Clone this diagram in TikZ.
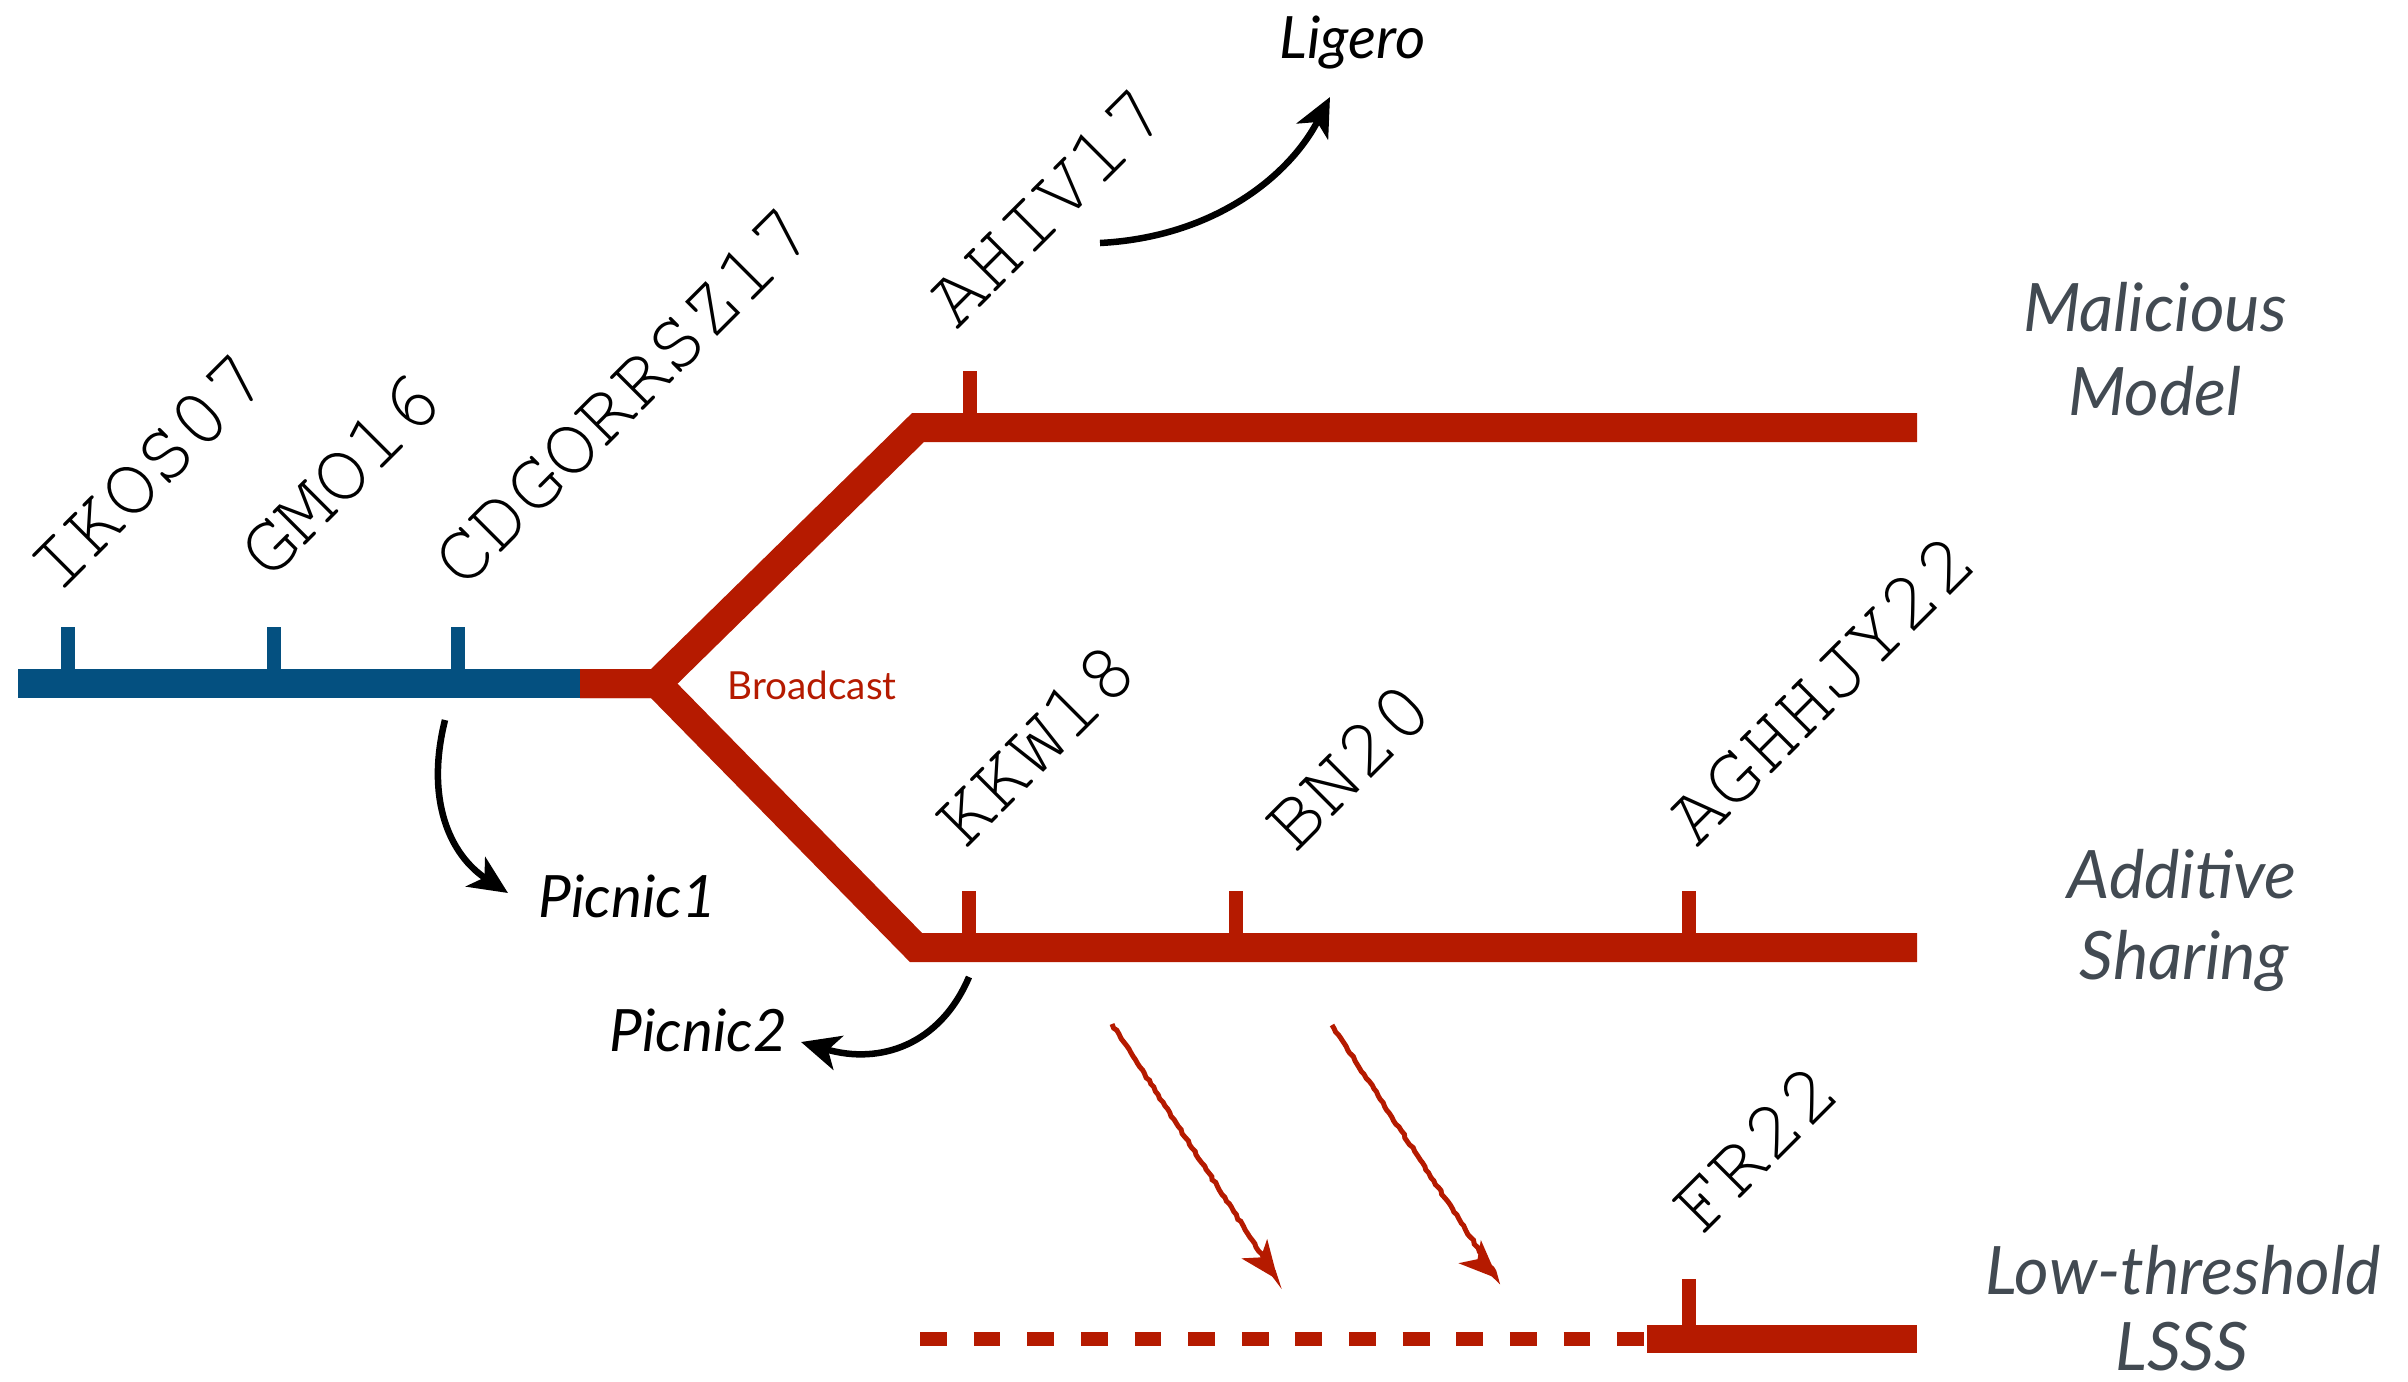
\documentclass[tikz,border=0pt]{standalone}
\usepackage[T1]{fontenc}
\usepackage{fontspec}
\setmainfont{Lato}
\usetikzlibrary{arrows.meta,decorations.pathmorphing}

\definecolor{rBlue}{RGB}{4,80,128}
\definecolor{rRed}{RGB}{181,26,0}
\definecolor{rGray}{RGB}{66,74,82}

% typewriter face for the citation keys
\newcommand{\citefont}{\fontencoding{T1}\fontfamily{pcr}\fontseries{m}\fontshape{n}\fontsize{23.7}{26}\selectfont}

\tikzset{
  blueline/.style={draw=rBlue, line width=0.29cm},
  redline/.style={draw=rRed, line width=0.29cm, miter limit=10},
  thinline/.style={draw=rRed, line width=0.14cm},
  tickmark/.style={line width=0.133cm},
  citekey/.style={rotate=45, anchor=base west, inner sep=0pt, font=\citefont},
  schemelabel/.style={anchor=base west, inner sep=0pt, font=\itshape\fontsize{16.6}{19}\selectfont},
  sidelabel/.style={anchor=base, inner sep=0pt, text=rGray, font=\itshape\fontsize{19}{22}\selectfont},
  curvedarrow/.style={draw=black, line width=0.065cm, -{Stealth[length=11pt,width=10pt,inset=3pt]}},
  sketcharrow/.style={draw=rRed, line width=0.05cm, decorate,
    decoration={random steps, segment length=1.2pt, amplitude=0.25pt},
    -{Stealth[length=11pt,width=9pt,inset=3pt]}}
}

\begin{document}
\begin{tikzpicture}[x=0.01cm,y=-0.01cm]
\useasboundingbox (0,0) rectangle (2408,1381);

% track geometry
\coordinate (bl) at (18,683.5);
\coordinate (bc) at (580,683.5);
\coordinate (J)  at (657,683.5);
\coordinate (uc) at (918,427.5);
\coordinate (ue) at (1917,427.5);
\coordinate (lc) at (916,947.5);
\coordinate (le) at (1917,947.5);
\coordinate (ds) at (920,1339);
\coordinate (de) at (1644,1339);
\coordinate (ts) at (1647,1339);
\coordinate (te) at (1917,1339);

% branches
\draw[redline] (bc) -- (J) -- (uc) -- (ue);
\draw[redline] (bc) -- (J) -- (lc) -- (le);
\draw[blueline] (bl) -- (bc);

% low-threshold track
\draw[thinline, dash pattern=on 0.268cm off 0.268cm] (ds) -- (de);
\draw[redline, line width=0.28cm] (ts) -- (te);

% ticks
\draw[tickmark, rBlue] (68,683.5) -- ++(0,-56.5);
\draw[tickmark, rBlue] (274,683.5) -- ++(0,-56.5);
\draw[tickmark, rBlue] (458,683.5) -- ++(0,-56.5);
\draw[tickmark, rRed] (970,427.5) -- ++(0,-56.5);
\draw[tickmark, rRed] (969,947.5) -- ++(0,-56.5);
\draw[tickmark, rRed] (1236,947.5) -- ++(0,-56.5);
\draw[tickmark, rRed] (1689,947.5) -- ++(0,-56.5);
\draw[tickmark, rRed] (1689,1339) -- ++(0,-60);

% citation keys
\node[citekey] (ikos) at (58,596) {IKOS07};
\node[citekey] (gmo) at (269,582) {GMO16};
\node[citekey] (cdg) at (463,591) {CDGORRSZ17};
\node[citekey] (ahiv) at (957,331) {AHIV17};
\node[citekey] (kkw) at (965,851) {KKW18};
\node[citekey] (bn) at (1295,855) {BN20};
\node[citekey] (aghh) at (1697,849) {AGHHJY22};
\node[citekey] (fr) at (1702,1237) {FR22};

% broadcast label
\node[anchor=base west, inner sep=0pt, text=rRed, font=\fontsize{11}{13}\selectfont] (bcast) at (727,699) {Broadcast};

% scheme labels
\node[schemelabel] (ligero) at (1279,58) {Ligero};
\node[schemelabel] (picnic1) at (538,917) {Picnic1};
\node[schemelabel] (picnic2) at (609,1051) {Picnic2};

% model labels
\node[sidelabel] (mal) at (2155,331) {Malicious};
\node[sidelabel] (mod) at (2155,415) {Model};
\node[sidelabel] (add) at (2182,898) {Additive};
\node[sidelabel] (sha) at (2184,979) {Sharing};
\node[sidelabel] (low) at (2183,1294) {Low-threshold};
\node[sidelabel] (lsss) at (2182,1370) {LSSS};

% derivation arrows
\coordinate (a1s) at (1100,243);
\coordinate (a1e) at (1330,97);
\draw[curvedarrow] (a1s) .. controls (1215,237) and (1290,175) .. (a1e);

\coordinate (a2s) at (445,720);
\coordinate (a2e) at (508,893);
\draw[curvedarrow] (a2s) .. controls (425,800) and (450,855) .. (a2e);

\coordinate (a3s) at (969,977);
\coordinate (a3e) at (801,1042);
\draw[curvedarrow] (a3s) .. controls (940,1045) and (880,1065) .. (a3e);

% hand-drawn arrows towards the LSSS track
\coordinate (r1s) at (1112,1024);
\coordinate (r1e) at (1278,1280);
\coordinate (r2s) at (1332,1025);
\coordinate (r2e) at (1498,1279);
\draw[sketcharrow] (r1s) -- (r1e);
\draw[sketcharrow] (r2s) -- (r2e);
\end{tikzpicture}
\end{document}
